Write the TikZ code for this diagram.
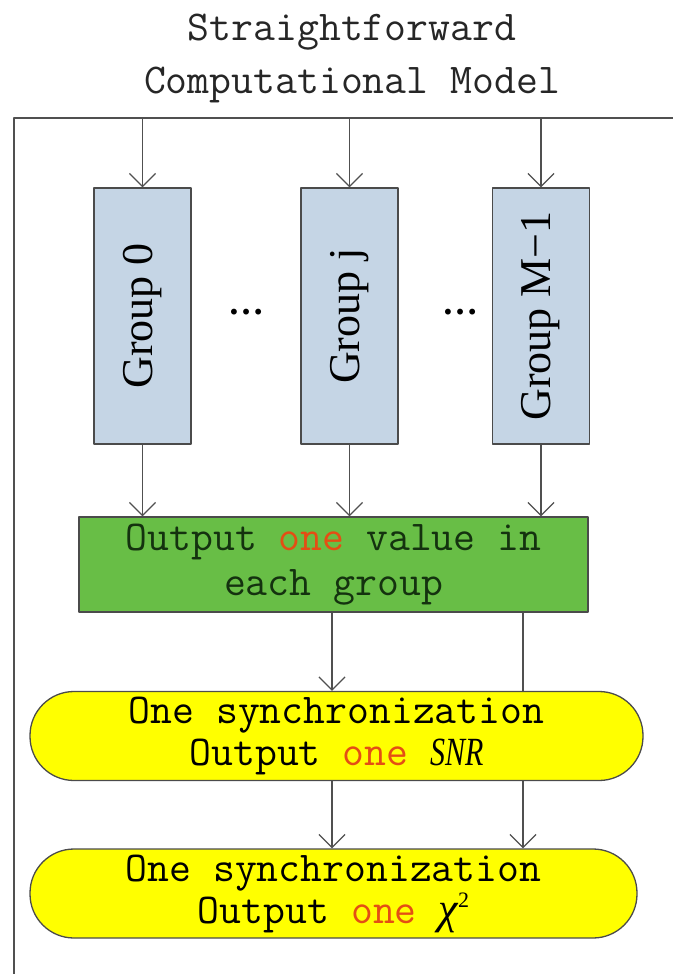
\documentclass[tikz,border=0pt]{standalone}
\usepackage{fontspec}
\usepackage{graphicx}
\newfontfamily\timesf{Liberation Serif}
\usetikzlibrary{arrows.meta,backgrounds}
\definecolor{linegray}{RGB}{80,80,80}
\definecolor{edgegray}{RGB}{75,75,75}
\definecolor{groupblue}{RGB}{197,213,229}
\definecolor{outgreen}{RGB}{104,190,70}
\definecolor{textgreen}{RGB}{20,50,15}
\definecolor{syncyellow}{RGB}{255,255,0}
\definecolor{onered}{RGB}{228,78,20}
\newcommand\hl[1]{\textcolor{onered}{#1}}
\begin{document}
\begin{tikzpicture}[x=1pt, y=-1pt, line join=round, >={Straight Barb[length=13pt,width=26pt]},
	wire/.style={draw=linegray, line width=1.3pt},
	grp/.style={draw=edgegray, fill=groupblue, line width=1.3pt, minimum width=97pt, minimum height=256pt, inner sep=0pt},
	outbox/.style={draw=edgegray, fill=outgreen, line width=1.3pt, minimum width=509pt, minimum height=95pt, align=center,
		font=\ttfamily\fontsize{42.5}{45}\selectfont, text=textgreen},
	sync/.style={draw=edgegray, fill=syncyellow, line width=1.3pt, rounded corners=44pt, minimum height=89pt, align=center,
		font=\ttfamily\fontsize{42.5}{42}\selectfont, inner sep=0pt}]
	\useasboundingbox (0,0) rectangle (673,974);
	\node[align=center, font=\ttfamily\fontsize{42.5}{53}\selectfont, text=black!85] (title) at (352,58) {Straightforward\\Computational Model};
	\path
	(14,974) coordinate (fbl)
	(14,118) coordinate (ftl)
	(673,118) coordinate (ftr)
	;
	\draw[wire] (fbl)--(ftl)--(ftr);
	\foreach \d/\x/\t in {0/142.5/Group 0, 1/349.5/Group j, 2/541/Group M−1}
		{\node[grp] (g\d) at (\x,316) {\rotatebox{90}{\timesf\fontsize{44}{44}\selectfont \t}};
		\path (\x,118) coordinate (t\d);
		\draw[wire,->] (t\d) -- (g\d);}
	\node (dots1) at (246,312) {\timesf\bfseries\fontsize{36}{36}\selectfont …};
	\node (dots2) at (460,312) {\timesf\bfseries\fontsize{36}{36}\selectfont …};
	\node[outbox] (out) at (333.5,564.5) {Output \hl{one} value in\\each group};
	\node[sync, minimum width=613pt] (sync1) at (336.5,736) {One synchronization\\Output \hl{one} \scalebox{0.75}[1]{\timesf\itshape\fontsize{40}{40}\selectfont SNR}};
	\node[sync, minimum width=607pt] (sync2) at (333.5,893.5) {One synchronization\\Output \hl{one} {\timesf\itshape\fontsize{44}{44}\selectfont χ}\raisebox{16pt}{\timesf\fontsize{22}{22}\selectfont 2}};
	\foreach \d in {0,1,2}
		{\draw[wire,->] (g\d) -- (g\d |- out.north);}
	\path (out.south) ++(-1.5,0) coordinate (o1) ++(191,0) coordinate (o2);
	\draw[wire,->] (o1) -- (o1 |- sync1.north);
	\draw[wire,->] (o1 |- sync1.south) -- (o1 |- sync2.north);
	\begin{scope}[on background layer]
		\draw[wire,->] (o2) -- (o2 |- sync2.north);
	\end{scope}
\end{tikzpicture}
\end{document}
